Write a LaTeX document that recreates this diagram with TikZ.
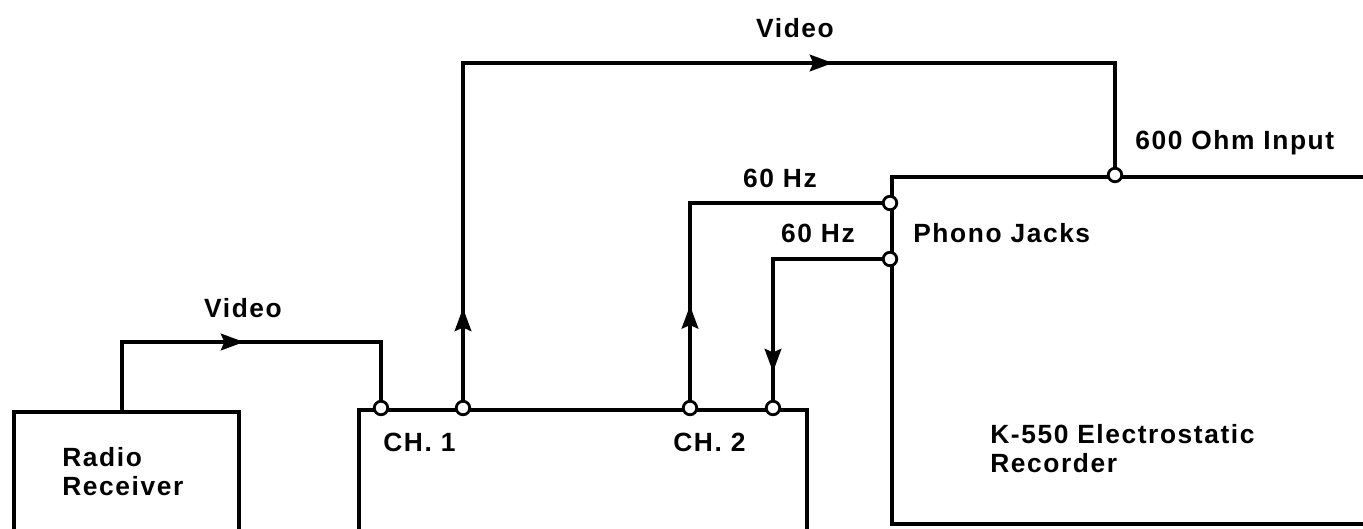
\documentclass[tikz,border=0pt]{standalone}
\usepackage{fontspec}
\newfontfamily\lblfont[LetterSpace=6]{Liberation Sans}
\usetikzlibrary{arrows.meta,decorations.markings}
\tikzset{
  wire/.style={line width=2.2pt, line join=miter},
  box/.style={draw, line width=2.2pt, inner sep=0pt, anchor=north west},
  port/.style={circle, draw, fill=white, line width=1.6pt, inner sep=0pt, minimum size=0.27cm},
  lbl/.style={font=\lblfont\bfseries\fontsize{15}{16.5}\selectfont, inner sep=0pt},
  arrowat/.style={postaction={decorate, decoration={markings, mark=at position #1 with {\arrow{Stealth[length=0.46cm,width=0.33cm,inset=0.07cm]}}}}},
}
\begin{document}
\begin{tikzpicture}[x=0.02cm,y=-0.02cm]
\useasboundingbox (0,0) rectangle (1363,528);
\begin{scope}
\clip (0,0) rectangle (1363,528);
% boxes
\node[box, minimum width=4.5cm, minimum height=3cm] (radio) at (12,410) {};
\node[box, minimum width=8.96cm, minimum height=3cm] (mixer) at (357,408) {};
\node[box, minimum width=10.2cm, minimum height=6.94cm] (rec) at (890,175) {};
% connection points
\coordinate (rout) at (122,410);
\coordinate (p1) at (381,408);
\coordinate (p2) at (463,408);
\coordinate (p3) at (690,408);
\coordinate (p4) at (773,408);
\coordinate (rin) at (1115,175);
\coordinate (ph1) at (890,203);
\coordinate (ph2) at (890,259);
% wires
\draw[wire, arrowat=3.8cm] (rout) -- ++(0,-68) -| (p1);
\draw[wire, arrowat=2.0cm, arrowat=14.3cm] (p2) -- ++(0,-345) -| (rin);
\draw[wire, arrowat=2.05cm] (p3) |- (ph1);
\draw[wire, arrowat=4.6cm] (ph2) -| (p4);
% port circles
\node[port] (c1) at (p1) {};
\node[port] (c2) at (p2) {};
\node[port] (c3) at (p3) {};
\node[port] (c4) at (p4) {};
\node[port] (c5) at (rin) {};
\node[port] (c6) at (ph1) {};
\node[port] (c7) at (ph2) {};
% labels
\node[lbl] (lv1) at (243,308) {Video};
\node[lbl] (lv2) at (795,28) {Video};
\node[lbl] (lhz1) at (780,178) {60 Hz};
\node[lbl] (lhz2) at (818,233) {60 Hz};
\node[lbl, anchor=west] (lph) at (913,233) {Phono Jacks};
\node[lbl, anchor=west] (lohm) at (1135,143) {600 Ohm Input};
\node[lbl, anchor=west] (lch1) at (383,442) {CH. 1};
\node[lbl, anchor=west] (lch2) at (673,442) {CH. 2};
\node[lbl, anchor=west, align=left] (lradio) at (62,472) {Radio\\Receiver};
\node[lbl, anchor=west, align=left] (lrec) at (990,449) {K-550 Electrostatic\\Recorder};
\end{scope}
\end{tikzpicture}
\end{document}
